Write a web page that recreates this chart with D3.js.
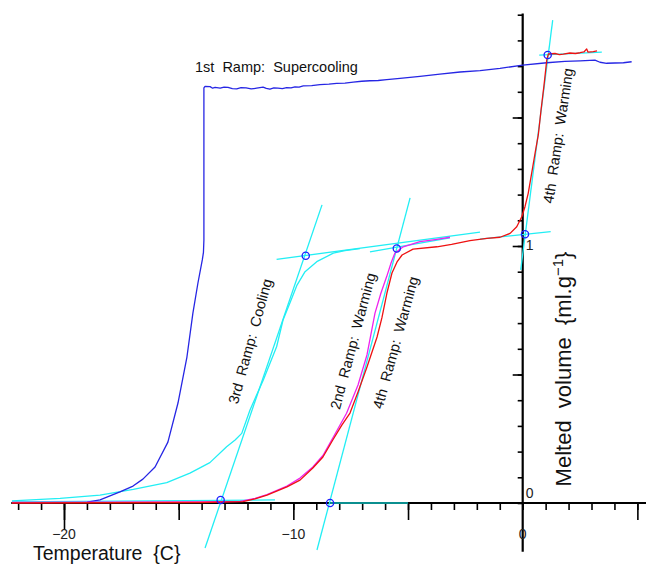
<!DOCTYPE html>
<html>
<head>
<meta charset="utf-8">
<script src="https://cdn.jsdelivr.net/npm/d3@7"></script>
<style>
  html, body { margin: 0; padding: 0; background: #fff; }
  svg { display: block; font-family: "Liberation Sans", Arial, Helvetica, sans-serif; }
  text { white-space: pre; }
</style>
</head>
<body>
<svg id="chart" width="646" height="568"></svg>
<script>
// ---- data: temperature (C) vs melted volume (ml/g) ----
const ramp1Supercooling = [
  [-18.99,0.003],[-18.43,0.012],[-17.56,0.043],[-16.99,0.066],[-16.56,0.093],[-16.03,0.140],
  [-15.47,0.237],[-15.03,0.389],[-14.64,0.568],[-14.38,0.739],[-14.16,0.856],[-13.97,0.946],
  [-13.92,0.975],[-13.90,1.023],[-13.90,1.615],[-13.85,1.621],[-13.63,1.620],[-13.52,1.614],
  [-13.41,1.617],[-13.19,1.614],[-13.02,1.618],[-12.85,1.617],[-12.66,1.612],[-12.47,1.611],
  [-12.28,1.616],[-12.06,1.615],[-11.84,1.611],[-11.60,1.614],[-11.32,1.618],[-11.18,1.613],
  [-11.02,1.610],[-10.85,1.615],[-10.67,1.614],[-10.48,1.612],[-10.29,1.616],[-10.10,1.615],
  [-9.93,1.619],[-9.75,1.618],[-9.57,1.623],[-9.20,1.624],[-8.84,1.628],[-8.45,1.630],
  [-8.11,1.633],[-7.75,1.634],[-7.39,1.638],[-7.02,1.641],[-6.66,1.643],[-6.30,1.644],
  [-5.93,1.647],[-5.35,1.652],[-4.48,1.660],[-3.61,1.669],[-2.73,1.677],[-1.86,1.682],
  [-0.99,1.691],[0,1.704],[1.05,1.713],[1.84,1.718],[2.50,1.720],[3.15,1.723],[3.37,1.715],
  [3.66,1.711],[4.02,1.712],[4.39,1.713],[4.75,1.717]
];

const ramp2Warming = [
  [-22.27,0.002],[-14.07,0.004],[-12.32,0.006],[-11.67,0.018],[-11.15,0.033],[-10.28,0.066],
  [-9.71,0.097],[-9.15,0.140],[-8.71,0.185],[-8.28,0.253],[-7.68,0.349],[-7.18,0.459],
  [-6.79,0.576],[-6.44,0.739],[-6.18,0.817],[-5.93,0.881],[-5.74,0.934],[-5.57,0.973],
  [-5.21,0.997],[-4.48,1.017],[-3.82,1.025],[-3.17,1.034]
];

const ramp3Cooling = [
  [-22.27,0.008],[-20.17,0.018],[-18.43,0.031],[-16.98,0.053],[-15.52,0.079],[-14.51,0.116],
  [-13.64,0.157],[-12.91,0.219],[-12.54,0.245],[-12.25,0.271],[-11.89,0.362],[-11.31,0.479],
  [-10.73,0.608],[-10.45,0.712],[-10.15,0.778],[-9.84,0.848],[-9.49,0.900],[-8.98,0.939],
  [-8.26,0.972],[-7.75,0.982],[-7.10,0.990]
];

const ramp4Warming = [
  [-22.27,0.000],[-14.07,0.002],[-12.20,0.005],[-11.67,0.016],[-11.15,0.031],[-10.28,0.063],
  [-9.71,0.089],[-9.15,0.136],[-8.71,0.179],[-8.28,0.245],[-7.88,0.304],[-7.53,0.350],
  [-7.18,0.432],[-6.79,0.529],[-6.35,0.646],[-6.14,0.720],[-5.92,0.817],[-5.70,0.895],
  [-5.48,0.938],[-5.26,0.965],[-4.78,0.988],[-3.74,0.997],[-3.10,1.006],[-2.30,1.021],
  [-1.56,1.030],[-0.99,1.034],[-0.55,1.049],[-0.26,1.075],[-0.04,1.114],[0.10,1.153],
  [0.24,1.205],[0.39,1.283],[0.54,1.361],[0.68,1.432],[0.80,1.529],[0.93,1.626],[1.05,1.724],
  [1.12,1.747],[1.41,1.749],[1.60,1.745],[1.77,1.747],[2.06,1.751],[2.30,1.749],[2.50,1.752],
  [2.67,1.755],[2.79,1.767],[2.85,1.754],[3.08,1.756],[3.24,1.759]
];

// straight construction lines used to find onset / completion points
const tangentLines = [
  [[-13.85,-0.175],[-8.75,1.160]],
  [[-8.97,-0.183],[-4.91,1.187]],
  [[-0.087,0.907],[1.308,1.879]],
  [[-10.73,0.948],[-1.86,1.054]],
  [[-6.66,0.977],[-3.17,1.032]],
  [[-1.86,1.027],[1.22,1.056]],
  [[0.72,1.743],[3.45,1.754]],
  [[-22.27,0.004],[-10.8,0.012]]
];
const baselineWarming = [[-8.4,0.0],[-5.0,0.0]];

// intersection points
const markerPoints = [
  [-13.17,0.012],[-8.40,0.0],[-9.46,0.962],[-5.49,0.99],[0.10,1.046],[1.09,1.743]
];

// axis ticks and labels
const xMinorTicks = d3.range(-22, 6, 1);
const xMajorTicks = [-20, -15, -10, -5, 5];
const xTickValues = [-20, -10, 0];
const xTickText = ["\u221220", "\u221210", "0"];
const yMinorTicks = d3.range(0, 20, 1).map(d => d / 10);
const yMajorTicks = [0.5, 1, 1.5];
const yTickValues = [0, 1];
const yTickText = ["0", "1"];

// curve annotations: text, position [x,y] in data units, rotation
const rampLabels = [
  { text: "3rd  Ramp:  Cooling", at: [-11.88, 0.629], angle: -74.5 },
  { text: "2nd  Ramp:  Warming", at: [-7.40, 0.630], angle: -75 },
  { text: "4th  Ramp:  Warming", at: [-5.54, 0.624], angle: -74.6 },
  { text: "4th  Ramp:  Warming", at: [1.55, 1.429], angle: -81.5 }
];

// ---- scales ----
const x = d3.scaleLinear().domain([-20, 0]).range([64, 522.7]);
const y = d3.scaleLinear().domain([0, 1]).range([503, 246]);

const svg = d3.select("#chart");
const line = d3.line().x(d => x(d[0])).y(d => y(d[1]));

// ---- axes ----
const xAxisG = svg.append("g").attr("transform", `translate(0,${y(0)})`);
xAxisG.call(d3.axisBottom(x).tickValues(xMinorTicks).tickSize(7).tickFormat("").tickSizeOuter(0));
const xMajorG = svg.append("g").attr("transform", `translate(0,${y(0)})`);
xMajorG.call(d3.axisBottom(x).tickValues(xMajorTicks).tickSize(17).tickFormat("").tickSizeOuter(0));
const xLongG = svg.append("g").attr("transform", `translate(0,${y(0)})`);
xLongG.call(d3.axisBottom(x).tickValues([-20]).tickSize(27).tickFormat("").tickSizeOuter(0));
[xAxisG, xMajorG, xLongG].forEach(g => {
  g.select(".domain").remove();
  g.selectAll("line").attr("stroke", "#000").attr("stroke-width", 1.6);
});

const yAxisG = svg.append("g").attr("transform", `translate(${x(0)},0)`);
yAxisG.call(d3.axisLeft(y).tickValues(yMinorTicks).tickSize(5).tickFormat("").tickSizeOuter(0));
const yMajorG = svg.append("g").attr("transform", `translate(${x(0)},0)`);
yMajorG.call(d3.axisLeft(y).tickValues(yMajorTicks).tickSize(10).tickFormat("").tickSizeOuter(0));
[yAxisG, yMajorG].forEach(g => {
  g.select(".domain").remove();
  g.selectAll("line").attr("stroke", "#000").attr("stroke-width", 1.6);
});

// axis lines
svg.append("line")
  .attr("x1", x(-22.3)).attr("x2", x(5.4)).attr("y1", y(0)).attr("y2", y(0))
  .attr("stroke", "#000").attr("stroke-width", 2.2);
svg.append("line")
  .attr("x1", x(0)).attr("x2", x(0)).attr("y1", y(1.905)).attr("y2", y(-0.19))
  .attr("stroke", "#000").attr("stroke-width", 2.2);

// tick labels
svg.selectAll(".xlab").data(xTickValues).enter().append("text")
  .attr("class", "xlab")
  .attr("x", d => x(d)).attr("y", 539)
  .attr("text-anchor", "middle").attr("font-size", 14).attr("fill", "#222")
  .text((d, i) => xTickText[i]);
svg.selectAll(".ylab").data(yTickValues).enter().append("text")
  .attr("class", "ylab")
  .attr("x", x(0) + 3).attr("y", d => y(d) + (d === 0 ? -5 : 4))
  .attr("font-size", 14).attr("fill", "#222")
  .text((d, i) => yTickText[i]);

// axis titles
svg.append("text")
  .attr("x", 33).attr("y", 560)
  .attr("font-size", 19.5).attr("fill", "#111")
  .text("Temperature  {C}");

const yTitle = svg.append("text")
  .attr("transform", "translate(571,369) rotate(-90)")
  .attr("text-anchor", "middle")
  .attr("font-size", 22).attr("fill", "#111");
yTitle.append("tspan").text("Melted  volume  {ml.g");
yTitle.append("tspan").attr("dy", -8).attr("font-size", 15).text("\u22121");
yTitle.append("tspan").attr("dy", 8).text("}");

// ---- construction lines ----
svg.selectAll(".tangent").data(tangentLines).enter().append("path")
  .attr("class", "tangent")
  .attr("d", line)
  .attr("fill", "none").attr("stroke", "#22eef4").attr("stroke-width", 1.3);
svg.append("path").datum(baselineWarming)
  .attr("d", line)
  .attr("fill", "none").attr("stroke", "#0b8f8f").attr("stroke-width", 2);

// ---- curves ----
const curves = [
  { data: ramp3Cooling, color: "#22eef4" },
  { data: ramp1Supercooling, color: "#2626e4" },
  { data: ramp2Warming, color: "#ee22ee" },
  { data: ramp4Warming, color: "#ee1111" }
];
curves.forEach(c => {
  svg.append("path").datum(c.data)
    .attr("d", line)
    .attr("fill", "none").attr("stroke", c.color)
    .attr("stroke-width", 1.3).attr("stroke-linejoin", "round");
});

// ---- intersection markers ----
svg.selectAll(".marker").data(markerPoints).enter().append("circle")
  .attr("class", "marker")
  .attr("cx", d => x(d[0])).attr("cy", d => y(d[1])).attr("r", 3.6)
  .attr("fill", "none").attr("stroke", "#1f1fff").attr("stroke-width", 1.3);

// ---- annotations ----
svg.append("text")
  .attr("x", 195).attr("y", 72)
  .attr("font-size", 14.5).attr("fill", "#111")
  .text("1st  Ramp:  Supercooling");

svg.selectAll(".ramplab").data(rampLabels).enter().append("text")
  .attr("class", "ramplab")
  .attr("transform", d => `translate(${x(d.at[0])},${y(d.at[1])}) rotate(${d.angle})`)
  .attr("text-anchor", "middle").attr("dominant-baseline", "central")
  .attr("font-size", 14.5).attr("fill", "#111")
  .text(d => d.text);
</script>
</body>
</html>
